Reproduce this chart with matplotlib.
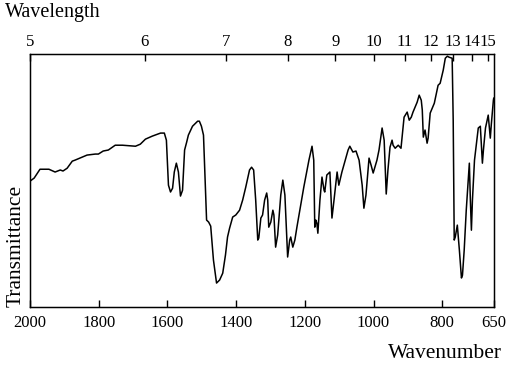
import numpy as np
import matplotlib
matplotlib.use('Agg')
import matplotlib.pyplot as plt

plt.rcParams['font.family'] = ['Liberation Serif', 'DejaVu Serif']

# ==================== 光谱数据 ====================
wavenumber = [2000, 1988, 1971, 1945, 1927, 1912, 1904, 1892, 1877, 1869,
              1848, 1834, 1810, 1801, 1787, 1772, 1752, 1731, 1693, 1679,
              1664, 1644, 1620, 1609, 1603, 1597, 1591, 1585, 1580, 1574,
              1568, 1562, 1556, 1550, 1544, 1539, 1527, 1512, 1507, 1501,
              1495, 1489, 1486, 1480, 1474, 1466, 1457, 1448, 1439, 1431,
              1425, 1419, 1410, 1401, 1390, 1381, 1372, 1361, 1355, 1349,
              1343, 1337, 1334, 1328, 1323, 1317, 1311, 1308, 1305, 1299,
              1293, 1290, 1285, 1279, 1270, 1264, 1258, 1250, 1244, 1241,
              1235, 1229, 1223, 1212, 1203, 1188, 1179, 1174, 1171, 1168,
              1165, 1162, 1156, 1150, 1144, 1142, 1136, 1127, 1121, 1115,
              1106, 1101, 1092, 1080, 1074, 1069, 1060, 1051, 1042, 1033,
              1028, 1022, 1013, 1007, 1001, 996, 990, 984, 975, 969,
              963, 958, 952, 946, 943, 937, 928, 920, 911, 902,
              896, 890, 885, 873, 867, 861, 858, 855, 850, 844,
              841, 835, 823, 812, 806, 797, 791, 785, 780, 771,
              768, 765, 762, 756, 750, 744, 741, 736, 730, 721,
              718, 715, 712, 706, 695, 689, 683, 680, 674, 666,
              660, 657, 651, 650]
transmittance = [49.8, 51.0, 54.5, 54.5, 53.4, 54.2, 53.8, 54.9, 57.7, 58.1,
                 59.3, 60.1, 60.5, 60.5, 61.7, 62.1, 64.0, 64.0, 63.6, 64.4,
                 66.4, 67.6, 68.8, 68.8, 66.0, 48.2, 45.5, 47.0, 53.4, 56.9,
                 53.4, 43.9, 46.2, 62.1, 65.2, 68.0, 71.5, 73.5, 73.5, 71.5,
                 68.0, 46.2, 34.4, 33.6, 32.0, 18.6, 9.5, 10.7, 13.4, 20.6,
                 27.7, 31.2, 35.6, 36.4, 38.3, 42.3, 47.4, 54.2, 55.3, 54.2,
                 42.3, 26.5, 27.3, 35.2, 36.4, 42.3, 45.1, 42.3, 31.6, 33.6,
                 38.3, 36.4, 23.7, 28.5, 44.3, 50.2, 44.3, 19.8, 26.5, 27.7,
                 23.7, 26.5, 31.6, 40.3, 47.4, 58.1, 63.6, 58.1, 31.6, 34.4,
                 33.2, 29.2, 42.3, 51.4, 46.2, 45.5, 52.2, 53.4, 35.2, 42.3,
                 53.4, 48.2, 53.4, 59.3, 62.1, 63.6, 61.3, 61.7, 58.1, 48.2,
                 39.1, 44.3, 58.9, 56.1, 53.0, 55.3, 58.1, 62.1, 70.8, 66.0,
                 44.7, 54.2, 63.2, 66.0, 64.0, 62.8, 64.0, 62.8, 75.1, 77.1,
                 73.9, 75.1, 77.1, 81.0, 83.8, 81.8, 77.9, 67.2, 70.0, 64.8,
                 66.8, 76.7, 80.6, 87.7, 88.5, 93.7, 98.4, 99.2, 98.8, 98.4,
                 73.9, 26.5, 27.7, 32.4, 22.5, 11.5, 12.6, 22.5, 38.3, 56.9,
                 42.3, 30.4, 42.3, 58.1, 70.8, 71.5, 56.9, 62.1, 70.8, 75.9,
                 66.8, 72.3, 81.8, 82.6]

bottom_ticks = [2000, 1800, 1600, 1400, 1200, 1000, 800, 650]
wavelength_ticks = list(range(5, 16))

fig = plt.figure(figsize=(5.09, 3.66), dpi=100)
ax = fig.add_axes([0.059, 0.161, 0.911, 0.691])

ax.plot(wavenumber, transmittance, color='black', linewidth=1.1)
ax.set_xlim(2000, 650)
ax.set_ylim(0, 100)
ax.set_yticks([])
ax.set_xticks(bottom_ticks)
ax.set_xticklabels([str(t) for t in bottom_ticks], fontsize=12)
ax.tick_params(axis='x', direction='in', length=5, width=1, pad=6, colors='black')
for s in ax.spines.values():
    s.set_linewidth(1.0)

# 上方波长坐标轴
ax2 = ax.twiny()
ax2.set_xlim(ax.get_xlim())
ax2.set_xticks([10000 / w for w in wavelength_ticks])
ax2.set_xticklabels([str(w) for w in wavelength_ticks], fontsize=12)
ax2.tick_params(axis='x', direction='in', length=5, width=1, pad=3)

ax.set_ylabel('Transmittance', fontsize=15.5, loc='bottom', labelpad=3)
fig.text(0.01, 0.967, 'Wavelength', fontsize=14.5, ha='left', va='center')
fig.text(0.987, 0.035, 'Wavenumber', fontsize=15.5, ha='right', va='center')

fig.savefig('out.png', dpi=100, facecolor='white')
